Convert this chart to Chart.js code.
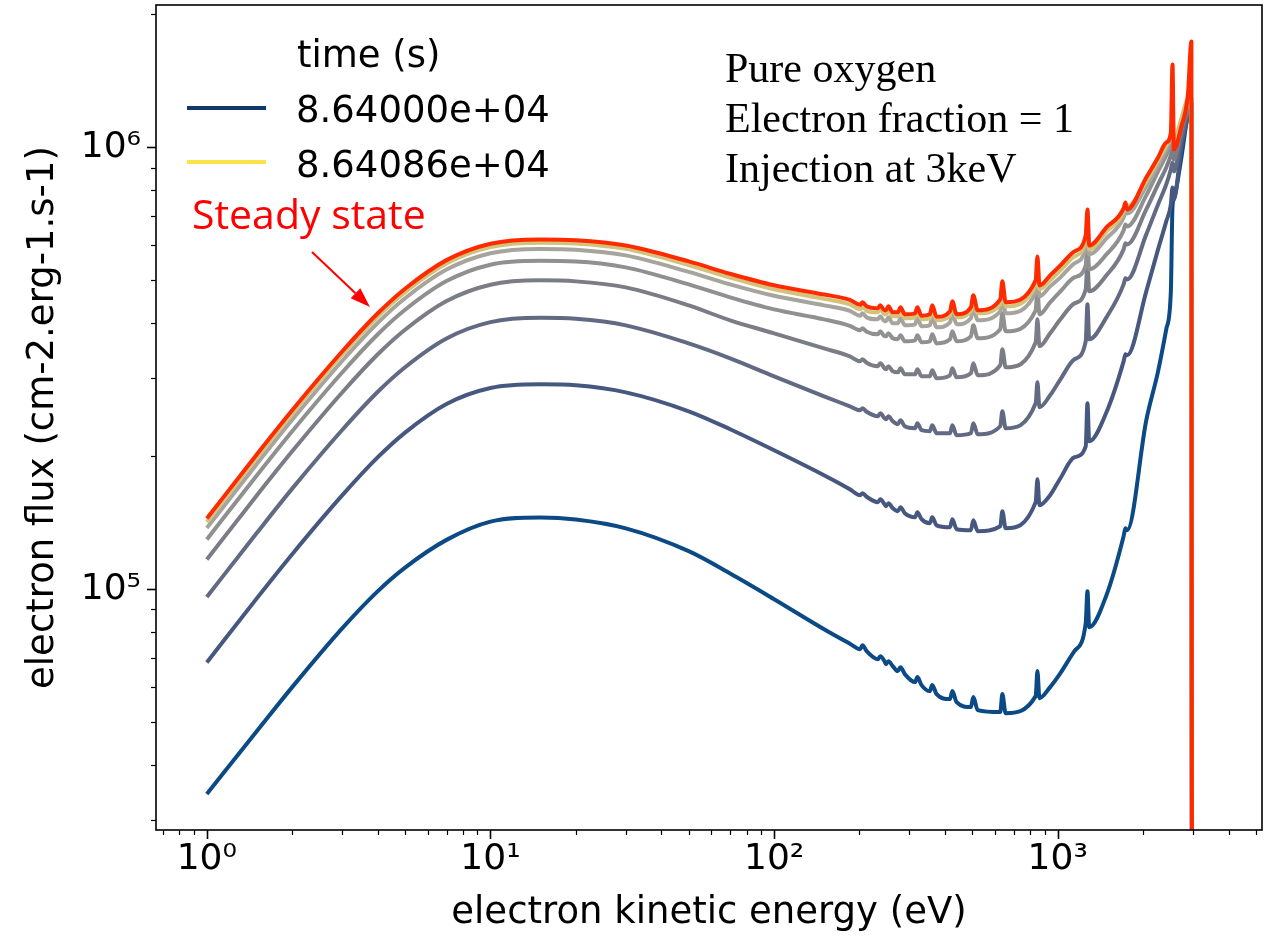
<!DOCTYPE html>
<html>
<head>
<meta charset="utf-8">
<script src="https://cdn.jsdelivr.net/npm/chart.js@4.4.0/dist/chart.umd.min.js"></script>
<style>
html,body{margin:0;padding:0;background:#ffffff;}
canvas{display:block;}
</style>
</head>
<body>
<canvas id="c" width="1271" height="937"></canvas>
<script>
// ---- data ----
const energy = [1, 1.5, 2, 3, 4, 5, 7, 10, 15, 20, 30, 50, 70, 100, 150, 185,
  201, 205, 212, 232, 237, 245, 248, 253, 262, 273, 279, 289, 314, 320, 331,
  354, 361, 374, 417, 425, 440, 494, 504, 522, 627, 638, 655, 836, 848, 862,
  940, 1022, 1145, 1255, 1273, 1291, 1485, 1707, 1732, 1757,
  2052, 2258, 2413, 2505, 2539, 2567, 2722, 2877, 2960, 3000];

const fluxSteady = [1.445e5, 2.018e5, 2.541e5, 3.451e5, 4.207e5, 4.787e5, 5.558e5, 6.055e5, 6.192e5, 6.167e5, 5.998e5, 5.521e5, 5.176e5, 4.875e5, 4.645e5, 4.518e5,
  4.402e5, 4.460e5, 4.368e5, 4.323e5, 4.390e5, 4.278e5, 4.278e5, 4.368e5, 4.234e5, 4.234e5, 4.345e5, 4.190e5, 4.211e5, 4.345e5, 4.157e5,
  4.190e5, 4.390e5, 4.135e5, 4.256e5, 4.483e5, 4.190e5, 4.345e5, 4.626e5, 4.278e5, 4.530e5, 4.975e5, 4.460e5, 5.001e5, 5.667e5, 4.872e5,
  5.133e5, 5.408e5, 5.816e5, 6.323e5, 7.239e5, 6.001e5, 6.592e5, 7.277e5, 7.508e5, 7.239e5,
  8.553e5, 9.492e5, 1.026e6, 1.081e6, 1.541e6, 9.896e5, 1.110e6, 1.318e6, 1.737e6, 1];

const fluxT7 = [1.420e5, 1.984e5, 2.497e5, 3.393e5, 4.136e5, 4.705e5, 5.464e5, 5.952e5, 6.087e5, 6.062e5, 5.893e5, 5.416e5, 5.075e5, 4.773e5, 4.542e5, 4.413e5,
  4.300e5, 4.357e5, 4.267e5, 4.234e5, 4.300e5, 4.190e5, 4.190e5, 4.278e5, 4.146e5, 4.146e5, 4.256e5, 4.103e5, 4.124e5, 4.256e5, 4.082e5,
  4.103e5, 4.300e5, 4.061e5, 4.168e5, 4.390e5, 4.124e5, 4.256e5, 4.530e5, 4.211e5, 4.413e5, 4.847e5, 4.368e5, 4.872e5, 5.521e5, 4.773e5,
  5.001e5, 5.269e5, 5.667e5, 6.160e5, 7.017e5, 5.878e5, 6.456e5, 7.164e5, 7.430e5, 7.354e5,
  8.377e5, 9.345e5, 1.010e6, 1.065e6, 1.110e6, 1.043e6, 1.157e6, 1.291e6, 1.298e6, 1];

const fluxT6 = [1.375e5, 1.920e5, 2.418e5, 3.285e5, 4.004e5, 4.556e5, 5.291e5, 5.762e5, 5.893e5, 5.868e5, 5.697e5, 5.228e5, 4.898e5, 4.614e5, 4.390e5, 4.267e5,
  4.157e5, 4.211e5, 4.124e5, 4.082e5, 4.146e5, 4.039e5, 4.039e5, 4.124e5, 3.998e5, 3.998e5, 4.103e5, 3.956e5, 3.977e5, 4.103e5, 3.936e5,
  3.956e5, 4.124e5, 3.915e5, 4.018e5, 4.211e5, 3.977e5, 4.103e5, 4.345e5, 4.061e5, 4.256e5, 4.650e5, 4.211e5, 4.699e5, 5.296e5, 4.602e5,
  4.847e5, 5.080e5, 5.464e5, 5.939e5, 6.730e5, 5.726e5, 6.225e5, 6.944e5, 7.164e5, 7.090e5,
  8.161e5, 9.104e5, 9.896e5, 1.043e6, 1.076e6, 1.021e6, 1.145e6, 1.271e6, 1.284e6, 1];

const fluxT5 = [1.296e5, 1.809e5, 2.278e5, 3.094e5, 3.771e5, 4.290e5, 4.983e5, 5.427e5, 5.536e5, 5.521e5, 5.352e5, 4.898e5, 4.578e5, 4.300e5, 4.082e5, 3.946e5,
  3.855e5, 3.895e5, 3.825e5, 3.775e5, 3.835e5, 3.736e5, 3.736e5, 3.795e5, 3.697e5, 3.678e5, 3.756e5, 3.640e5, 3.659e5, 3.756e5, 3.621e5,
  3.640e5, 3.775e5, 3.601e5, 3.678e5, 3.835e5, 3.640e5, 3.736e5, 3.956e5, 3.697e5, 3.875e5, 4.211e5, 3.835e5, 4.278e5, 4.773e5, 4.190e5,
  4.460e5, 4.723e5, 5.080e5, 5.408e5, 6.096e5, 5.296e5, 5.726e5, 6.490e5, 6.696e5, 6.626e5,
  7.788e5, 8.825e5, 9.591e5, 1.010e6, 1.043e6, 9.896e5, 1.121e6, 1.245e6, 1.264e6, 1];

const fluxT4 = [1.167e5, 1.630e5, 2.052e5, 2.788e5, 3.398e5, 3.866e5, 4.490e5, 4.890e5, 5.001e5, 4.975e5, 4.822e5, 4.390e5, 4.061e5, 3.795e5, 3.509e5, 3.366e5,
  3.279e5, 3.314e5, 3.254e5, 3.195e5, 3.245e5, 3.162e5, 3.146e5, 3.195e5, 3.113e5, 3.097e5, 3.162e5, 3.065e5, 3.065e5, 3.146e5, 3.033e5,
  3.033e5, 3.130e5, 3.002e5, 3.049e5, 3.162e5, 3.017e5, 3.081e5, 3.245e5, 3.049e5, 3.212e5, 3.491e5, 3.178e5, 3.621e5, 4.082e5, 3.546e5,
  3.795e5, 4.082e5, 4.436e5, 4.773e5, 5.493e5, 4.723e5, 5.133e5, 5.878e5, 6.065e5, 6.033e5,
  7.239e5, 8.246e5, 9.010e5, 9.591e5, 9.896e5, 9.394e5, 1.087e6, 1.219e6, 1.251e6, 1];

const fluxT3 = [9.602e4, 1.340e5, 1.689e5, 2.293e5, 2.795e5, 3.180e5, 3.694e5, 4.023e5, 4.114e5, 4.092e5, 3.956e5, 3.601e5, 3.331e5, 3.033e5, 2.733e5, 2.594e5,
  2.541e5, 2.568e5, 2.521e5, 2.463e5, 2.502e5, 2.437e5, 2.425e5, 2.463e5, 2.399e5, 2.362e5, 2.412e5, 2.338e5, 2.314e5, 2.375e5, 2.290e5,
  2.278e5, 2.350e5, 2.254e5, 2.254e5, 2.350e5, 2.231e5, 2.254e5, 2.375e5, 2.242e5, 2.338e5, 2.528e5, 2.314e5, 2.635e5, 2.940e5, 2.581e5,
  2.747e5, 2.986e5, 3.314e5, 3.640e5, 4.413e5, 3.678e5, 4.124e5, 4.898e5, 5.054e5, 5.027e5,
  6.356e5, 7.430e5, 8.246e5, 8.917e5, 9.248e5, 8.825e5, 1.043e6, 1.200e6, 1.245e6, 1];

const fluxT2 = [6.826e4, 9.532e4, 1.200e5, 1.630e5, 1.987e5, 2.262e5, 2.625e5, 2.853e5, 2.909e5, 2.894e5, 2.790e5, 2.528e5, 2.302e5, 2.063e5, 1.811e5, 1.684e5,
  1.632e5, 1.649e5, 1.619e5, 1.574e5, 1.598e5, 1.557e5, 1.541e5, 1.566e5, 1.525e5, 1.501e5, 1.533e5, 1.485e5, 1.455e5, 1.493e5, 1.440e5,
  1.410e5, 1.455e5, 1.395e5, 1.381e5, 1.440e5, 1.367e5, 1.360e5, 1.432e5, 1.353e5, 1.388e5, 1.501e5, 1.374e5, 1.574e5, 1.774e5, 1.549e5,
  1.632e5, 1.783e5, 1.989e5, 2.106e5, 2.635e5, 2.162e5, 2.515e5, 3.279e5, 3.401e5, 3.384e5,
  4.723e5, 5.878e5, 6.801e5, 7.430e5, 8.118e5, 7.627e5, 9.896e5, 1.175e6, 1.232e6, 1];

const fluxT1 = [3.437e4, 4.768e4, 6.002e4, 8.153e4, 9.888e4, 1.119e5, 1.293e5, 1.422e5, 1.453e5, 1.438e5, 1.373e5, 1.219e5, 1.085e5, 9.493e4, 8.119e4, 7.529e4,
  7.315e4, 7.469e4, 7.240e4, 6.944e4, 7.054e4, 6.872e4, 6.766e4, 6.872e4, 6.696e4, 6.524e4, 6.661e4, 6.423e4, 6.161e4, 6.323e4, 6.065e4,
  5.878e4, 6.065e4, 5.787e4, 5.638e4, 5.878e4, 5.550e4, 5.408e4, 5.697e4, 5.324e4, 5.269e4, 5.787e4, 5.241e4, 5.727e4, 6.524e4, 5.667e4,
  6.002e4, 6.456e4, 7.240e4, 8.377e4, 9.896e4, 8.203e4, 9.692e4, 1.318e5, 1.374e5, 1.360e5,
  2.412e5, 3.113e5, 3.875e5, 4.723e5, 7.354e5, 7.627e5, 9.394e5, 1.188e6, 1.264e6, 1];

const legendTimes = ['8.64000e+04', '8.64086e+04'];
const xTicks = [0.7, 0.8, 0.9, 1, 2, 3, 4, 5, 6, 7, 8, 9, 10, 20, 30, 40, 50, 60, 70, 80, 90,
  100, 200, 300, 400, 500, 600, 700, 800, 900, 1000, 2000, 3000, 4000, 5000];
const yTicks = [3e4, 4e4, 5e4, 6e4, 7e4, 8e4, 9e4, 1e5, 2e5, 3e5, 4e5, 5e5, 6e5, 7e5, 8e5, 9e5, 1e6, 2e6];

// ---- styling ----
const seriesDefs = [
  { values: fluxSteady, color: '#ff2a00' },
  { values: fluxT7, color: '#d3c27a' },
  { values: fluxT6, color: '#a6a49d' },
  { values: fluxT5, color: '#919090' },
  { values: fluxT4, color: '#7a7c86' },
  { values: fluxT3, color: '#616a82' },
  { values: fluxT2, color: '#465880' },
  { values: fluxT1, color: '#0b4a84' }
];

const datasets = seriesDefs.map(s => ({
  data: energy.map((e, i) => ({ x: e, y: s.values[i] })),
  borderColor: s.color,
  borderWidth: 4,
  pointRadius: 0,
  cubicInterpolationMode: 'monotone',
  fill: false,
  borderJoinStyle: 'round',
  borderCapStyle: 'butt'
}));

const SUP = { '0': '\u2070', '1': '\u00b9', '2': '\u00b2', '3': '\u00b3', '4': '\u2074', '5': '\u2075', '6': '\u2076', '7': '\u2077', '8': '\u2078', '9': '\u2079', '-': '\u207b' };
function isDecade(v) {
  const p = Math.round(Math.log10(v));
  return Math.abs(v - Math.pow(10, p)) / v < 1e-9;
}
function decadeLabel(v) {
  if (!isDecade(v)) return '';
  const p = Math.round(Math.log10(v));
  return '10' + String(p).split('').map(c => SUP[c]).join('');
}

const decorPlugin = {
  id: 'decor',
  afterDraw(chart) {
    const ctx = chart.ctx;
    const a = chart.chartArea;
    const xs = chart.scales.x, ys = chart.scales.y;
    ctx.save();
    // ticks
    ctx.strokeStyle = '#000';
    xTicks.forEach(v => {
      const px = Math.round(xs.getPixelForValue(v)) + 0.5;
      const major = isDecade(v);
      ctx.lineWidth = major ? 1.6 : 1.2;
      ctx.beginPath();
      ctx.moveTo(px, a.bottom);
      ctx.lineTo(px, a.bottom + (major ? 9 : 5));
      ctx.stroke();
    });
    yTicks.forEach(v => {
      const py = Math.round(ys.getPixelForValue(v)) + 0.5;
      const major = isDecade(v);
      ctx.lineWidth = major ? 1.6 : 1.2;
      ctx.beginPath();
      ctx.moveTo(a.left, py);
      ctx.lineTo(a.left - (major ? 9 : 5), py);
      ctx.stroke();
    });
    // frame
    ctx.lineWidth = 1.6;
    ctx.strokeRect(a.left, a.top, a.right - a.left, a.bottom - a.top);

    // legend
    ctx.fillStyle = '#000';
    ctx.textBaseline = 'alphabetic';
    ctx.textAlign = 'left';
    ctx.font = '37px "DejaVu Sans"';
    ctx.fillText('time (s)', 297, 67);
    ctx.lineWidth = 4;
    ctx.strokeStyle = '#12386b';
    ctx.beginPath(); ctx.moveTo(187, 108); ctx.lineTo(266, 108); ctx.stroke();
    ctx.strokeStyle = '#fbe44a';
    ctx.beginPath(); ctx.moveTo(187, 162); ctx.lineTo(266, 162); ctx.stroke();
    ctx.fillText(legendTimes[0], 296, 122);
    ctx.fillText(legendTimes[1], 296, 177);

    // steady state note + arrow
    ctx.fillStyle = '#ff0000';
    ctx.font = '41px "Open Sans"';
    ctx.fillText('Steady state', 192, 229);
    const tail = [312, 252], tip = [370, 307];
    const dx = tip[0] - tail[0], dy = tip[1] - tail[1];
    const L = Math.hypot(dx, dy), ux = dx / L, uy = dy / L;
    const hl = 20, hw = 7;
    const bx = tip[0] - ux * hl, by = tip[1] - uy * hl;
    ctx.strokeStyle = '#ff0000';
    ctx.lineWidth = 2;
    ctx.beginPath(); ctx.moveTo(tail[0], tail[1]); ctx.lineTo(bx, by); ctx.stroke();
    ctx.beginPath();
    ctx.moveTo(tip[0], tip[1]);
    ctx.lineTo(bx - uy * hw, by + ux * hw);
    ctx.lineTo(bx + uy * hw, by - ux * hw);
    ctx.closePath();
    ctx.fill();

    // physics note
    ctx.fillStyle = '#000';
    ctx.font = '42px "Liberation Serif"';
    ctx.fillText('Pure oxygen', 725, 82);
    ctx.fillText('Electron fraction = 1', 725, 132);
    ctx.fillText('Injection at 3keV', 725, 182);
    ctx.restore();
  }
};

const tickFont = { family: 'DejaVu Sans', size: 36 };
const titleFont = { family: 'DejaVu Sans', size: 37 };

new Chart(document.getElementById('c').getContext('2d'), {
  type: 'line',
  data: { datasets },
  options: {
    responsive: false,
    animation: false,
    devicePixelRatio: 1,
    layout: { padding: { top: 5, right: 9, left: 0, bottom: 0 } },
    plugins: { legend: { display: false }, tooltip: { enabled: false } },
    scales: {
      x: {
        type: 'logarithmic',
        min: 0.662,
        max: 5250,
        afterBuildTicks: s => { s.ticks = xTicks.map(v => ({ value: v })); },
        afterFit: s => { s.height = 107; s.paddingLeft = 0; s.paddingRight = 0; },
        border: { display: false },
        grid: { display: true, drawOnChartArea: false, drawTicks: true, tickLength: 2, color: 'rgba(0,0,0,0)' },
        ticks: { autoSkip: false, maxRotation: 0, minRotation: 0, padding: 6, color: '#000', font: tickFont, callback: v => decadeLabel(v) },
        title: { display: true, text: 'electron kinetic energy (eV)', color: '#000', font: titleFont, padding: { top: 0, bottom: 1 } }
      },
      y: {
        type: 'logarithmic',
        min: 28500,
        max: 2.101e6,
        afterBuildTicks: s => { s.ticks = yTicks.map(v => ({ value: v })); },
        afterFit: s => { s.width = 156; s.paddingTop = 0; s.paddingBottom = 0; },
        border: { display: false },
        grid: { display: true, drawOnChartArea: false, drawTicks: true, tickLength: 9, color: 'rgba(0,0,0,0)' },
        ticks: { autoSkip: false, padding: 6, color: '#000', font: tickFont, callback: v => decadeLabel(v) },
        title: { display: true, text: 'electron flux (cm-2.erg-1.s-1)', color: '#000', font: titleFont, padding: { top: 21, bottom: 0 } }
      }
    }
  },
  plugins: [decorPlugin]
});
</script>
</body>
</html>
